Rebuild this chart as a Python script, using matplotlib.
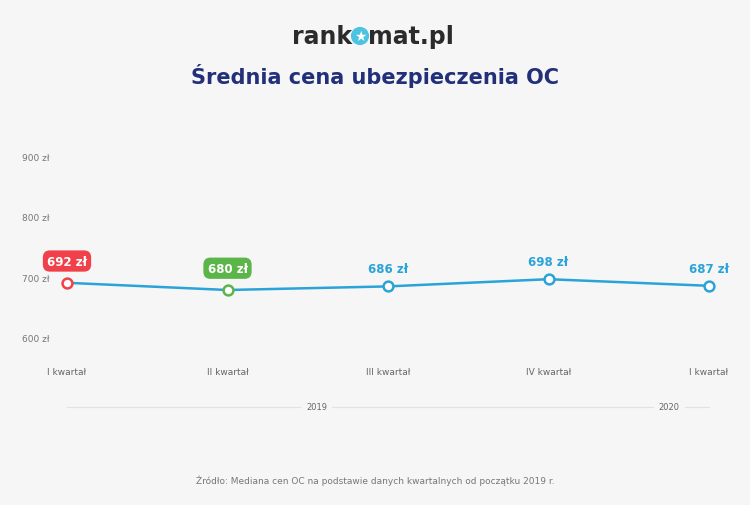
import matplotlib.pyplot as plt
import matplotlib.transforms as mtransforms

quarters = ["I kwartał", "II kwartał", "III kwartał", "IV kwartał", "I kwartał"]
prices = [692, 680, 686, 698, 687]
labels = ["692 zł", "680 zł", "686 zł", "698 zł", "687 zł"]
yticks = [600, 700, 800, 900]
blue = "#2aa3d8"
point_colors = ["#f0404a", "#5cb548", blue, blue, blue]

fig = plt.figure(figsize=(7.5, 5.06), dpi=100)
fig.patch.set_facecolor("#f6f6f6")
ax = fig.add_axes([67 / 750, 167 / 506, 642 / 750, 180 / 506])
ax.set_xlim(0, 4)
ax.set_ylim(600, 900)
ax.axis("off")

x = list(range(len(prices)))
ax.plot(x, prices, color=blue, lw=1.8, zorder=2, clip_on=False)
for i, (p, c, lab) in enumerate(zip(prices, point_colors, labels)):
    ax.scatter(i, p, s=50, facecolor="white", edgecolor=c, linewidth=1.8, zorder=3, clip_on=False)
    if c == blue:
        ax.annotate(lab, (i, p), xytext=(0, 8), textcoords="offset points",
                    ha="center", va="bottom", color=blue, fontsize=8.5, fontweight="bold")
    else:
        ax.annotate(lab, (i, p), xytext=(0, 11), textcoords="offset points",
                    ha="center", va="bottom", color="white", fontsize=8.5, fontweight="bold",
                    bbox=dict(boxstyle="round,pad=0.35,rounding_size=0.6", fc=c, ec="none"))

trans = mtransforms.blended_transform_factory(fig.transFigure, ax.transData)
for t in yticks:
    ax.text(22 / 750, t, f"{t} zł", transform=trans, ha="left", va="center",
            fontsize=6.5, color="#777777")

transx = mtransforms.blended_transform_factory(ax.transData, fig.transFigure)
for i, q in enumerate(quarters):
    ax.text(i, 1 - 373 / 506, q, transform=transx, ha="center", va="center",
            fontsize=6.5, color="#666666")

# year brackets
yl = 1 - 408 / 506
ax.plot([0, 1.45], [yl, yl], transform=transx, color="#e2e2e2", lw=0.8, clip_on=False)
ax.plot([1.65, 3.65], [yl, yl], transform=transx, color="#e2e2e2", lw=0.8, clip_on=False)
ax.plot([3.85, 4], [yl, yl], transform=transx, color="#e2e2e2", lw=0.8, clip_on=False)
ax.text(1.56, yl, "2019", transform=transx, ha="center", va="center", fontsize=6, color="#666666")
ax.text(3.75, yl, "2020", transform=transx, ha="center", va="center", fontsize=6, color="#666666")

ly = 1 - 37 / 506
fig.text(352 / 750, ly, "rank", ha="right", va="center", fontsize=17,
         fontweight="bold", color="#2b2b2b")
fig.text(360 / 750, ly, "★", ha="center", va="center", fontsize=10, color="white",
         bbox=dict(boxstyle="circle,pad=0.15", fc="#4cc3e0", ec="none"))
fig.text(368 / 750, ly, "mat.pl", ha="left", va="center", fontsize=17,
         fontweight="bold", color="#2b2b2b")
fig.text(0.5, 1 - 76 / 506, "Średnia cena ubezpieczenia OC", ha="center", va="center",
         fontsize=15, fontweight="bold", color="#22307a")
fig.text(0.5, 1 - 481 / 506, "Źródło: Mediana cen OC na podstawie danych kwartalnych od początku 2019 r.",
         ha="center", va="center", fontsize=6.5, color="#777777")

fig.savefig("out.png", dpi=100, facecolor=fig.get_facecolor())
